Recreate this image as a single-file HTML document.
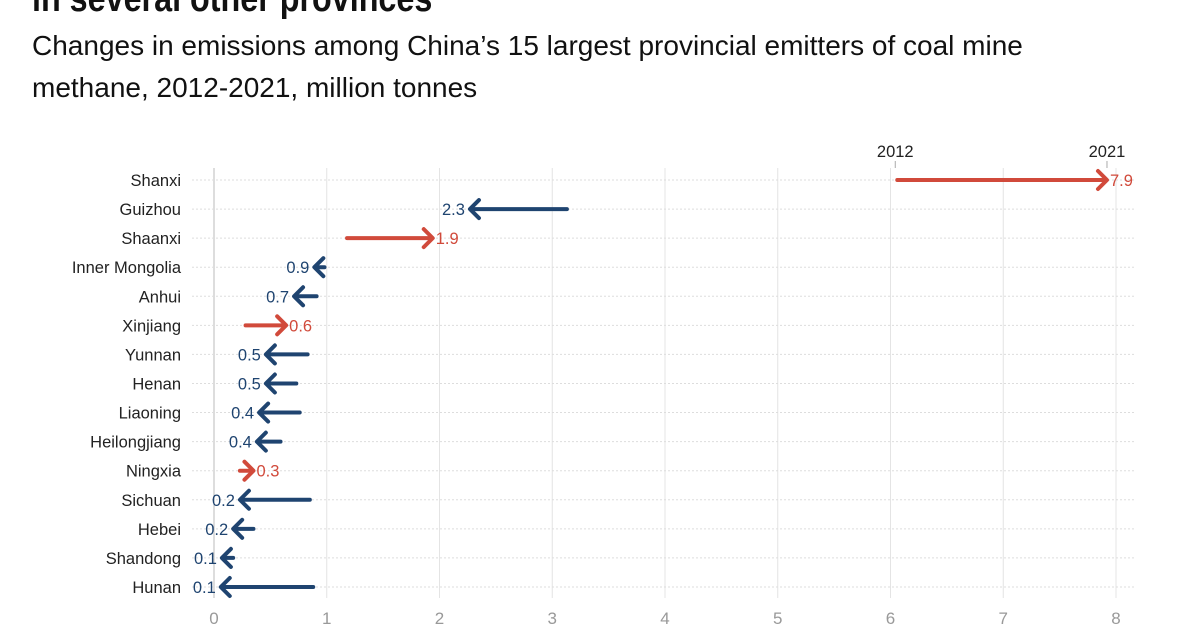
<!DOCTYPE html>
<html><head><meta charset="utf-8"><style>
body{margin:0;background:#fff;width:1200px;height:628px;overflow:hidden;font-family:"Liberation Sans",sans-serif}
.t{position:absolute;left:32px;top:-22px;font-size:38px;font-weight:bold;color:#111;transform:scaleX(0.85);transform-origin:left;white-space:nowrap}
.s{position:absolute;left:32px;top:25px;font-size:28px;line-height:42px;color:#111;width:1040px}
svg{position:absolute;left:0;top:0}
</style></head><body>
<div class="t">in several other provinces</div>
<div class="s">Changes in emissions among China’s 15 largest provincial emitters of coal mine methane, 2012-2021, million tonnes</div>
<svg id="c" width="1200" height="628"></svg>
<script>
const provinces=["Shanxi","Guizhou","Shaanxi","Inner Mongolia","Anhui","Xinjiang","Yunnan","Henan","Liaoning","Heilongjiang","Ningxia","Sichuan","Hebei","Shandong","Hunan"];
const v2012=[6.06,3.13,1.18,0.98,0.91,0.28,0.83,0.73,0.76,0.59,0.23,0.85,0.35,0.17,0.88];
const v2021=[7.92,2.27,1.94,0.89,0.71,0.64,0.46,0.46,0.40,0.38,0.35,0.23,0.17,0.07,0.06];
const labels=["7.9","2.3","1.9","0.9","0.7","0.6","0.5","0.5","0.4","0.4","0.3","0.2","0.2","0.1","0.1"];
const ticks=[0,1,2,3,4,5,6,7,8];
const svg=document.getElementById('c');const NS="http://www.w3.org/2000/svg";
const x=v=>214+v*112.75;const y=i=>180+i*29.07;
function mk(t,a,p){const e=document.createElementNS(NS,t);for(const k in a)e.setAttribute(k,a[k]);(p||svg).appendChild(e);return e;}
ticks.forEach(t=>{
 const l=mk('line',{x1:x(t),x2:x(t),y1:168,y2:598,stroke:t==0?'#bbb':'#e4e4e4','stroke-width':1});
 
 const tx=mk('text',{x:x(t),y:624,'text-anchor':'middle','font-size':17,fill:'#999'});tx.textContent=t;
 
});
provinces.forEach((p,i)=>{
 const yy=y(i);
 const g=mk('line',{x1:192,x2:1135,y1:yy,y2:yy,stroke:'#ddd','stroke-dasharray':'2,2'});
 
 const lb=mk('text',{x:181,y:yy+6,'text-anchor':'end','font-size':16.5,fill:'#222'});lb.textContent=p;
 
 const up=v2021[i]>v2012[i];const col=up?'#d14a3b':'#1f4470';
 const x0=x(v2012[i]),x1=x(v2021[i]);const d=up?1:-1;
 const gr=mk('g',{});
 mk('line',{x1:x0,x2:x1-d*2,y1:yy,y2:yy,stroke:col,'stroke-width':4,'stroke-linecap':'round'},gr);
 mk('polyline',{points:`${x1-d*9},${yy-9} ${x1},${yy} ${x1-d*9},${yy+9}`,fill:'none',stroke:col,'stroke-width':4,'stroke-linecap':'round','stroke-linejoin':'round'},gr);
 const vt=mk('text',{x:up?x1+3:x1-5,y:yy+6,'text-anchor':up?'start':'end','font-size':16.5,fill:col});vt.textContent=labels[i];
 
});
[[v2012[0],'2012'],[v2021[0],'2021']].forEach(([v,s])=>{
 const xx=x(v)+(s=='2012'?-2:0);
 mk('line',{x1:xx,x2:xx,y1:161,y2:168,stroke:'#aaa'});
 const t=mk('text',{x:xx,y:157,'text-anchor':'middle','font-size':16.5,fill:'#222'});t.textContent=s;
 
});
</script>
</body></html>
